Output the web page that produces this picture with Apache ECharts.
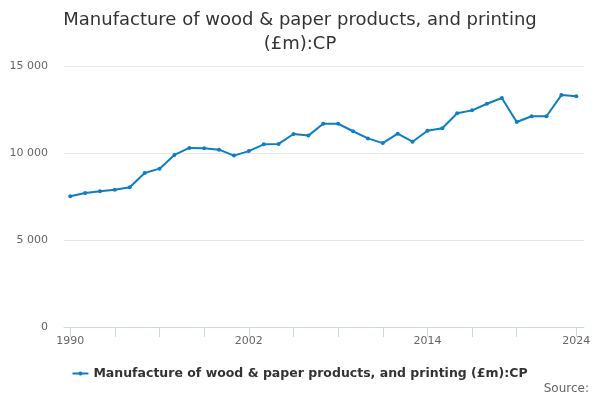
<!DOCTYPE html>
<html><head><meta charset="utf-8">
<script src="https://cdn.jsdelivr.net/npm/echarts@6/dist/echarts.min.js"></script>
<style>html,body{margin:0;padding:0;background:#fff}#c{width:600px;height:400px}</style>
</head><body><div id="c"></div>
<script>
const years = [1990,1991,1992,1993,1994,1995,1996,1997,1998,1999,2000,2001,2002,2003,2004,2005,2006,2007,2008,2009,2010,2011,2012,2013,2014,2015,2016,2017,2018,2019,2020,2021,2022,2023,2024];
const values = [7510,7700,7800,7890,8030,8850,9100,9890,10290,10270,10190,9850,10110,10500,10520,11090,11000,11680,11680,11250,10840,10570,11110,10650,11280,11420,12280,12450,12830,13160,11780,12110,12110,13330,13260];
const xTicks = [1990,1993,1996,1999,2002,2005,2008,2011,2014,2017,2020,2024];
const xLabels = [1990,2002,2014,2024];
const yTicks = [0,5000,10000,15000];
const seriesName = 'Manufacture of wood & paper products, and printing (£m):CP';
const titleText = 'Manufacture of wood & paper products, and printing\n(£m):CP';
const sourceText = 'Source:';

const font = 'DejaVu Sans';
const chart = echarts.init(document.getElementById('c'), null, {renderer:'canvas'});
chart.setOption({
  animation:false,
  textStyle:{fontFamily:font},
  title:[{text:titleText,left:'center',top:3,textStyle:{fontSize:18,fontWeight:'normal',color:'#333',lineHeight:24,fontFamily:font}},
         {text:sourceText,right:6,top:378,textStyle:{fontSize:12,fontWeight:'normal',color:'#666',fontFamily:font}}],
  legend:{top:362,left:'center',itemWidth:16,itemHeight:6,itemGap:5,
    icon:'path://M0,2 L16,2 L16,4 L0,4 Z M10,3 A2,2 0 1 1 6,3 A2,2 0 1 1 10,3 Z',
    data:[{name:seriesName}],
    textStyle:{fontSize:12.5,fontWeight:'bold',color:'#333',fontFamily:font}},
  grid:{left:64,right:16,top:66,bottom:73,containLabel:false},
  xAxis:{type:'value',min:1989.58,max:2024.52,
    axisLine:{show:true,lineStyle:{color:'#ccd6eb',width:1}},
    axisTick:{show:true,customValues:xTicks,length:10,lineStyle:{color:'#ccd6eb'}},
    axisLabel:{customValues:xLabels,color:'#666',fontSize:11,margin:9,fontFamily:font,formatter:v=>String(v)},
    splitLine:{show:false}},
  yAxis:{type:'value',min:0,max:15000,interval:5000,
    axisLine:{show:false},axisTick:{show:false},
    axisLabel:{color:'#666',fontSize:11,margin:16,fontFamily:font,formatter:v=>String(v).replace(/\B(?=(\d{3})+(?!\d))/g,' ')},
    splitLine:{lineStyle:{color:'#e6e6e6',width:1}}},
  series:[{name:seriesName,type:'line',data:years.map((y,i)=>[y,values[i]]),
    symbol:'circle',symbolSize:4,showSymbol:true,
    lineStyle:{color:'#0d7dc4',width:2},itemStyle:{color:'#0d7dc4'}}]
});
</script></body></html>
